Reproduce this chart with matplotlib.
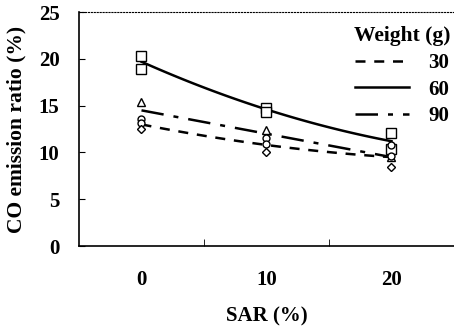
import numpy as np
import matplotlib.pyplot as plt

plt.rcParams['font.family'] = ['Liberation Serif', 'DejaVu Serif']
plt.rcParams['font.weight'] = 'bold'

# SAR levels (%)
sar = [0, 10, 20]

# measured points (two replicates per level)
w60_a = [20.3, 14.8, 12.1]
w60_b = [18.9, 14.3, 10.4]
w90_tri = [15.4, 12.4, 9.5]
w90_cir = [13.6, 11.5, 10.8]
w30_cir = [13.1, 10.9, 9.6]
w30_dia = [12.5, 10.0, 8.4]

# trend lines
trend_30 = [13.0, 10.8, 9.5]
trend_60 = [19.7, 14.6, 11.2]
trend_90 = [14.5, 12.0, 9.5]

fig = plt.figure(figsize=(4.54, 3.28), dpi=100)
ax = fig.add_axes([0.174, 0.25, 0.826, 0.713])

xs = np.linspace(0, 20, 100)
styles = {
    '30': (trend_30, (0, (4, 3.5))),
    '60': (trend_60, '-'),
    '90': (trend_90, (0, (9, 4, 2, 4))),
}
for lab, (vals, ls) in styles.items():
    c = np.polyfit(sar, vals, 2)
    ax.plot(xs, np.polyval(c, xs), color='black', lw=1.8, ls=ls, label=lab)

mk = dict(color='black', mfc='white', mew=1.0, ls='none', ms=6.5)
ax.plot(sar, w60_a, marker='s', **mk)
ax.plot(sar, w60_b, marker='s', **mk)
ax.plot(sar, w90_tri, marker='^', **{**mk, 'ms': 6})
ax.plot(sar, w90_cir, marker='o', **{**mk, 'ms': 5})
ax.plot(sar, w30_cir, marker='o', **{**mk, 'ms': 5})
ax.plot(sar, w30_dia, marker='D', **{**mk, 'ms': 4.5})

ax.set_xlim(-5, 25)
ax.set_ylim(0, 25)
ax.set_xticks([0, 10, 20])
ax.set_xticks([5, 15], minor=True)
ax.set_yticks([0, 5, 10, 15, 20, 25])
ax.tick_params(axis='both', direction='in', labelsize=15, length=4)
ax.tick_params(axis='x', which='major', length=0, pad=17)
ax.tick_params(axis='x', which='minor', direction='in', length=5)
ax.tick_params(axis='y', pad=14)

ax.spines['right'].set_visible(False)
ax.spines['top'].set_linestyle(':')
ax.spines['top'].set_linewidth(0.8)
ax.spines['left'].set_linewidth(1.2)
ax.spines['bottom'].set_linewidth(1.2)

ax.set_xlabel('SAR (%)', fontsize=15, fontweight='bold', labelpad=12)
ax.set_ylabel('CO emission ratio (%)', fontsize=15.5, fontweight='bold', labelpad=9)

leg = ax.legend(title='Weight (g)', loc='upper right', bbox_to_anchor=(1.04, 1.02),
                frameon=False, fontsize=15, title_fontsize=15.5, handlelength=2.6,
                handletextpad=0.9, labelspacing=0.32)
leg.get_title().set_fontweight('bold')
leg._legend_box.align = 'center'

fig.savefig('out.png', dpi=100)
